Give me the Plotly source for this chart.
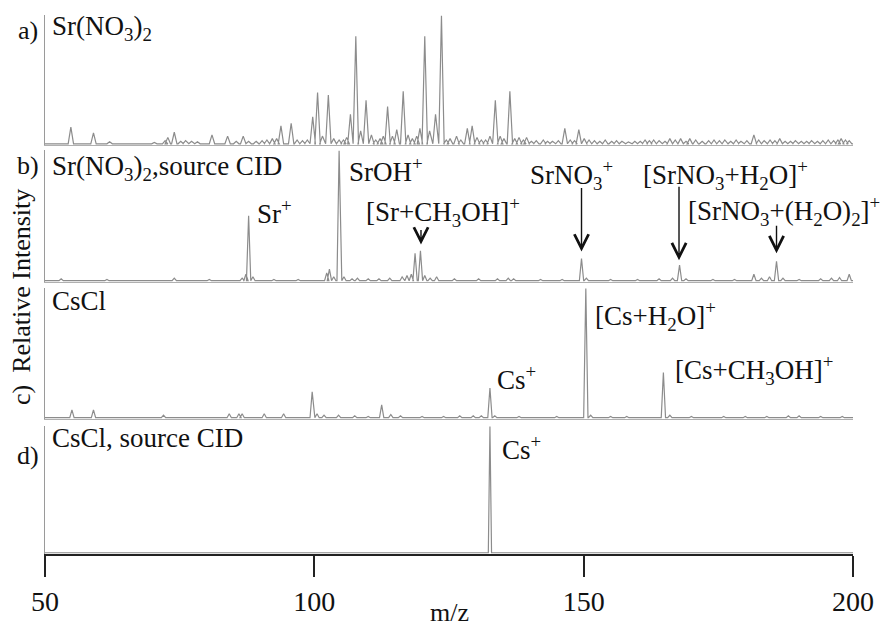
import plotly.graph_objects as go

MZ_MIN, MZ_MAX = 50, 200
TICKS = [50, 100, 150, 200]

# ---- panel a) Sr(NO3)2 ----
a_mz = [54.8, 59.0, 62.0, 70.3, 72.3, 72.8, 74.0, 75.2, 76.1, 77.2, 78.3, 81.0, 83.9, 85.5, 86.8, 87.8,
        89.2, 90.3, 91.2, 92.2, 93.0, 93.8, 95.7, 96.8, 97.8, 98.7, 99.7, 100.6, 101.5, 102.6, 103.6,
        104.6, 105.4, 106.0, 106.7, 107.7, 108.6, 109.6, 110.6, 111.4, 112.2, 112.8, 113.6, 114.5,
        115.3, 116.5, 117.4, 118.2, 119.0, 119.6, 120.5, 121.4, 122.5, 123.6, 124.5, 125.2, 126.4,
        127.2, 128.4, 129.3, 130.2, 131.0, 131.8, 132.6, 133.6, 134.5, 135.2, 136.3, 137.2, 138.0,
        138.8, 139.4, 140.3, 141.2, 142.5, 143.3, 144.2, 145.3, 146.5, 147.5, 148.3, 149.1, 150.1,
        151.0, 152.0, 153.0, 154.0, 155.2, 156.1, 157.1, 158.3, 159.5, 160.5, 161.4, 162.2, 163.0,
        164.0, 165.1, 166.0, 167.0, 168.0, 169.0, 169.7, 170.8, 172.0, 173.2, 174.2, 175.2, 176.2,
        177.3, 178.3, 179.2, 180.3, 181.6, 182.5, 183.5, 184.6, 185.5, 186.4, 187.4, 188.4, 189.3,
        190.4, 191.4, 192.3, 193.4, 194.4, 195.4, 196.4, 197.2, 197.8, 198.6, 199.3]
a_int = [13, 8.5, 1.5, 1, 2.5, 5, 9, 2, 2.5, 2, 1.5, 7, 6, 2, 6, 2,
         2, 2.5, 3, 4, 4, 14, 16, 3, 2.5, 3, 21, 40, 6, 38, 4,
         3, 3, 5, 23, 84, 10, 34, 7, 3, 4, 6, 29, 6,
         11, 41, 7, 4, 6, 12, 84, 10, 23, 100, 3, 4, 6,
         3, 12, 14, 5, 3, 3, 6, 34, 6, 4, 41, 4, 5,
         3, 5, 2, 2.5, 3, 2, 2, 2.5, 12, 3, 2.5, 11, 4,
         3, 2.5, 2, 3, 2, 2.5, 2, 1.5, 2, 2, 3, 2.5, 3,
         2.5, 2, 4, 3, 4, 2, 4, 3, 2, 2.5, 3, 2.5, 3,
         2, 3, 2, 2.5, 7, 3, 2.5, 3, 2.5, 4, 2, 2, 2.5,
         2, 2, 2.5, 2, 2.5, 3, 2.5, 3, 4, 3, 2.5]

# ---- panel b) Sr(NO3)2, source CID ----
b_mz = [53.0, 61.5, 74.0, 80.5, 86.6, 87.3, 87.8, 88.6, 92.5, 97.0, 102.3, 102.8, 103.6, 104.6, 105.5,
        107.0, 108.0, 110.0, 112.0, 114.0, 116.3, 117.2, 118.0, 118.7, 119.7, 120.5, 121.5, 122.7,
        126.0, 130.5, 134.0, 136.0, 137.0, 142.0, 146.0, 149.6, 150.5, 155.0, 160.0, 164.0, 166.5,
        167.8, 169.0, 174.0, 178.0, 181.6, 183.0, 184.5, 185.8, 187.0, 190.0, 194.0, 196.0, 197.5, 199.3]
b_int = [1.5, 1, 2, 1, 2, 5, 50, 3, 1, 1, 6, 9, 3, 100, 3,
         1.5, 2, 1.5, 1.5, 2, 3, 4, 5, 21, 23, 4, 2, 3,
         1.5, 1.5, 1.5, 2, 1.5, 1, 1, 17, 2, 1, 1, 1.5, 2,
         12, 1.5, 1, 1, 5, 2, 3, 15, 2, 1, 1.5, 2, 2.5, 5]

# ---- panel c) CsCl ----
c_mz = [55.0, 59.0, 72.0, 84.2, 86.0, 86.6, 90.7, 94.3, 99.6, 100.5, 101.8, 104.5, 107.5, 110.0, 112.5,
        114.2, 116.0, 120.0, 124.0, 127.0, 129.5, 131.0, 132.6, 133.5, 138.0, 145.0, 150.4, 151.3,
        155.0, 158.0, 164.8, 166.0, 170.0, 176.0, 180.0, 184.0, 188.0, 190.0, 194.0, 198.0]
c_int = [6, 6, 2, 3, 3, 3, 3, 3, 20, 3, 2, 2, 1.5, 1, 10,
         2.5, 1.5, 1, 1, 1.5, 1.5, 1.5, 23, 1.5, 1, 1, 100, 2,
         1, 1, 35, 2, 1, 1, 1, 1, 1.5, 1.5, 1, 1]

# ---- panel d) CsCl, source CID ----
d_mz = [132.6]
d_int = [100]

LINE_COLOR = "#8c8c8c"
FONT = "Times New Roman, Liberation Serif, DejaVu Serif, serif"


def stick_profile(mz, inten, hw):
    xs, ys = [MZ_MIN], [0]
    for m, h in sorted(zip(mz, inten)):
        xs += [m - hw, m, m + hw]
        ys += [0, h, 0]
    xs.append(MZ_MAX)
    ys.append(0)
    return xs, ys


fig = go.Figure()
panels = [("x4", "y4", a_mz, a_int, 0.5),
          ("x3", "y3", b_mz, b_int, 0.4),
          ("x2", "y2", c_mz, c_int, 0.4),
          ("x", "y", d_mz, d_int, 0.3)]
for xa, ya, mz, inten, hw in panels:
    xs, ys = stick_profile(mz, inten, hw)
    fig.add_trace(go.Scatter(x=xs, y=ys, mode="lines", xaxis=xa, yaxis=ya,
                             line=dict(color=LINE_COLOR, width=1.2), showlegend=False,
                             hoverinfo="skip"))

yax = dict(range=[-1, 100.5], showline=True, linecolor="#9a9a9a", linewidth=1,
           showticklabels=False, ticks="", showgrid=False, zeroline=False)
xhidden = dict(range=[MZ_MIN, MZ_MAX], matches="x", showline=True, linecolor="#b0b0b0",
               linewidth=1, showticklabels=False, ticks="", showgrid=False, zeroline=False)

fig.update_layout(
    width=886, height=629,
    margin=dict(l=45, r=33, t=15, b=67),
    paper_bgcolor="white", plot_bgcolor="white",
    font=dict(family=FONT, color="#111111", size=26),
    xaxis=dict(range=[MZ_MIN, MZ_MAX], anchor="y", showline=True, linecolor="#222222", linewidth=2,
               ticks="outside", ticklen=21, tickwidth=2, tickcolor="#222222", tickvals=TICKS,
               tickfont=dict(size=28, family=FONT, color="#111111"), showgrid=False, zeroline=False),
    xaxis2=dict(anchor="y2", **xhidden),
    xaxis3=dict(anchor="y3", **xhidden),
    xaxis4=dict(anchor="y4", **xhidden),
    yaxis=dict(domain=[0.0, 0.2377], anchor="x", **yax),
    yaxis2=dict(domain=[0.2505, 0.4936], anchor="x2", **yax),
    yaxis3=dict(domain=[0.5046, 0.7495], anchor="x3", **yax),
    yaxis4=dict(domain=[0.7587, 1.0], anchor="x4", **yax),
)

ann = []


def text(x, y, s, xanchor="left", xref="x", size=27, angle=0):
    ann.append(dict(x=x, y=y, xref=xref, yref="paper", text=s, showarrow=False,
                    xanchor=xanchor, yanchor="middle", textangle=angle,
                    font=dict(size=size, family=FONT, color="#111111")))


def arrow(x, y, ay):
    ann.append(dict(x=x, y=y, xref="x", yref="paper", text="", showarrow=True,
                    ax=0, ay=ay, arrowhead=5, arrowsize=2.0, arrowwidth=1.4,
                    arrowcolor="#111111", standoff=0, startstandoff=0))


# panel labels
text(-0.021, 0.971, "a)", xanchor="center", xref="paper", size=26)
text(-0.021, 0.720, "b)", xanchor="center", xref="paper", size=26)
text(-0.021, 0.182, "d)", xanchor="center", xref="paper", size=26)
text(-0.029, 0.506, "Relative Intensity", xanchor="center", xref="paper", angle=-90, size=26)
text(-0.029, 0.294, "c)", xanchor="center", xref="paper", angle=-90, size=26)

# panel a
text(50.93, 0.976, "Sr(NO<sub>3</sub>)<sub>2</sub>")
# panel b
text(50.93, 0.717, "Sr(NO<sub>3</sub>)<sub>2</sub>,source CID")
text(106.06, 0.713, "SrOH<sup>+</sup>")
text(88.99, 0.634, "Sr<sup>+</sup>")
text(123.9, 0.634, "[Sr+CH<sub>3</sub>OH]<sup>+</sup>", xanchor="center")
text(147.83, 0.704, "SrNO<sub>3</sub><sup>+</sup>", xanchor="center")
text(176.24, 0.704, "[SrNO<sub>3</sub>+H<sub>2</sub>O]<sup>+</sup>", xanchor="center")
text(169.0, 0.636, "[SrNO<sub>3</sub>+(H<sub>2</sub>O)<sub>2</sub>]<sup>+</sup>")
arrow(119.8, 0.574, -16)
arrow(149.6, 0.561, -65)
arrow(167.7, 0.545, -75)
arrow(185.8, 0.558, -29)
# panel c
text(50.93, 0.470, "CsCl")
text(133.54, 0.327, "Cs<sup>+</sup>")
text(151.73, 0.442, "[Cs+H<sub>2</sub>O]<sup>+</sup>")
text(166.58, 0.342, "[Cs+CH<sub>3</sub>OH]<sup>+</sup>")
# panel d
text(50.93, 0.216, "CsCl, source CID")
text(134.47, 0.197, "Cs<sup>+</sup>")
# x title
text(0.5, -0.108, "m/z", xanchor="center", xref="paper", size=26)

fig.update_layout(annotations=ann)
fig.write_html("out.html")
